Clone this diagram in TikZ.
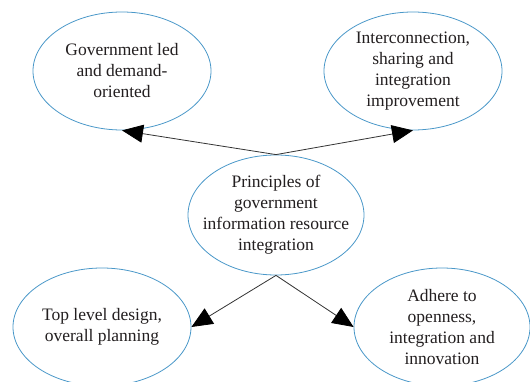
\documentclass[tikz,border=0pt]{standalone}
\usepackage{fontspec}
\setmainfont{Liberation Serif}
\usetikzlibrary{shapes.geometric,arrows.meta}
\definecolor{ellblue}{RGB}{74,152,201}
\definecolor{txt}{RGB}{35,31,32}
\begin{document}
\begin{tikzpicture}[x=1pt,y=-1pt,
  ell/.style={ellipse,draw=ellblue,line width=0.8pt,fill=white,minimum width=178pt,minimum height=118pt,inner sep=0pt,align=center,text=txt,font=\fontsize{17.5}{21}\selectfont},
  arr/.style={draw=black!80,line width=0.8pt,-{Triangle[length=21pt,width=18pt,fill=black,color=black]}}]
\useasboundingbox (0,0) rectangle (530,382);
\node[ell] (c) at (276,215) [minimum width=176pt,minimum height=120pt,inner xsep=-16pt] {Principles of\\government\\information resource\\integration};
\node[ell] (tl) at (122,71) {Government led\\and demand-\\oriented};
\node[ell] (tr) at (413,71) {Interconnection,\\sharing and\\integration\\improvement};
\node[ell] (bl) at (102,327) {Top level design,\\overall planning};
\node[ell] (br) at (442,327) [minimum width=176pt] {Adhere to\\openness,\\integration and\\innovation};
\draw[arr] (c.north) -- (tl.south);
\draw[arr] (c.north) -- (tr.south);
\draw[arr] (c.south) -- (bl.east);
\draw[arr] (c.south) -- (br.west);
\end{tikzpicture}
\end{document}
